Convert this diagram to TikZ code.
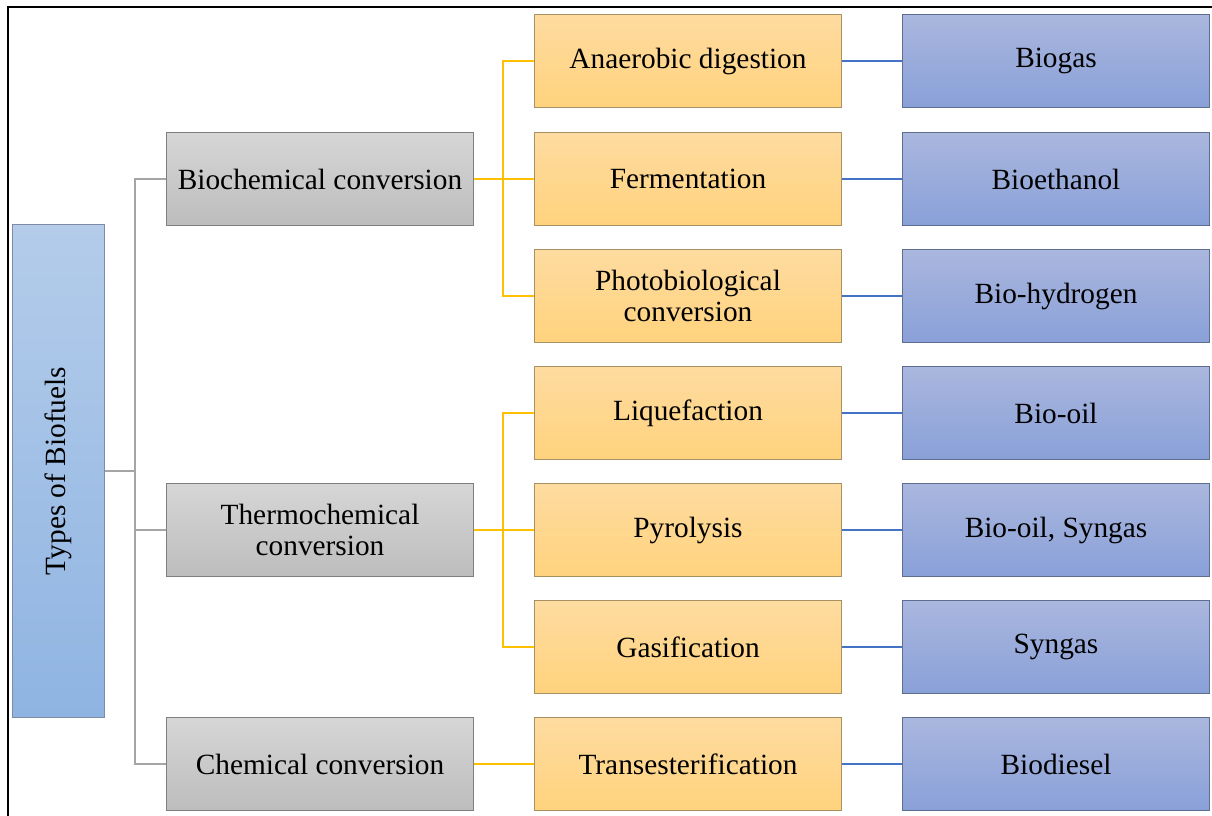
\documentclass[tikz,border=0pt]{standalone}
\usepackage{fontspec}
\setmainfont{Liberation Serif}
\definecolor{greyedge}{HTML}{7F7F7F}
\definecolor{orangeedge}{HTML}{A89060}
\definecolor{blueedge}{HTML}{5F6E90}
\definecolor{greyline}{HTML}{A5A5A5}
\definecolor{orangeline}{HTML}{FFC000}
\definecolor{blueline}{HTML}{4472C4}
\tikzset{
  box/.style = {draw,line width=0.75pt,minimum width=230pt,minimum height=70pt,
    align=center,inner sep=2pt,font=\fontsize{22}{23}\selectfont},
  catbox/.style = {box,draw=greyedge,top color=black!16,bottom color=black!26},
  procbox/.style = {box,draw=orangeedge,top color={rgb,255:red,254;green,219;blue,160},
    bottom color={rgb,255:red,255;green,211;blue,125}},
  fuelbox/.style = {box,draw=blueedge,top color={rgb,255:red,170;green,183;blue,222},
    bottom color={rgb,255:red,137;green,160;blue,216}},
  rootbox/.style = {draw=blueedge!80,line width=0.75pt,minimum width=369pt,minimum height=69pt,
    rotate=90,font=\fontsize{22}{23}\selectfont,
    bottom color={rgb,255:red,143;green,180;blue,226},top color={rgb,255:red,180;green,204;blue,234}},
  link/.style = {line width=1.6pt}
}
\begin{document}
\begin{tikzpicture}[x=0.75pt,y=-0.75pt]
   \useasboundingbox (0,0) rectangle (1212,816);
   \draw[line width=2.2pt] (8,816) -- (8,7) -- (1212,7);
   % root and categories
   \node[rootbox] (root) at (58,471) {Types of Biofuels};
   \node[catbox] (bio) at (320,179) {Biochemical conversion};
   \node[catbox] (thermo) at (320,530) {Thermochemical\\conversion};
   \node[catbox] (chem) at (320,764) {Chemical conversion};
   % processes
   \node[procbox] (ad) at (688,61) {Anaerobic digestion};
   \node[procbox] (ferm) at (688,179) {Fermentation};
   \node[procbox] (photo) at (688,296) {Photobiological\\conversion};
   \node[procbox] (liq) at (688,413) {Liquefaction};
   \node[procbox] (pyro) at (688,530) {Pyrolysis};
   \node[procbox] (gas) at (688,647) {Gasification};
   \node[procbox] (trans) at (688,764) {Transesterification};
   % products
   \node[fuelbox] (biogas) at (1056,61) {Biogas};
   \node[fuelbox] (ethanol) at (1056,179) {Bioethanol};
   \node[fuelbox] (hydrogen) at (1056,296) {Bio-hydrogen};
   \node[fuelbox] (oil) at (1056,413) {Bio-oil};
   \node[fuelbox] (oilsyn) at (1056,530) {Bio-oil, Syngas};
   \node[fuelbox] (syngas) at (1056,647) {Syngas};
   \node[fuelbox] (diesel) at (1056,764) {Biodiesel};
   % connectors
   \coordinate (gj) at (135,471);
   \coordinate (oj1) at (503,179);
   \coordinate (oj2) at (503,530);
   \draw[link,greyline] (root.south) -- (gj) |- (bio.west)
        (gj) |- (thermo.west)  (gj) |- (chem.west);
   \draw[link,orangeline] (bio.east) -- (oj1) |- (ad.west)
        (oj1) |- (photo.west)  (oj1) -- (ferm.west)
        (thermo.east) -- (oj2) |- (liq.west)  (oj2) |- (gas.west)
        (oj2) -- (pyro.west)  (chem.east) -- (trans.west);
   \foreach \p/\f in {ad/biogas,ferm/ethanol,photo/hydrogen,liq/oil,
                      pyro/oilsyn,gas/syngas,trans/diesel}
     \draw[link,blueline] (\p.east) -- (\f.west);
\end{tikzpicture}
\end{document}
